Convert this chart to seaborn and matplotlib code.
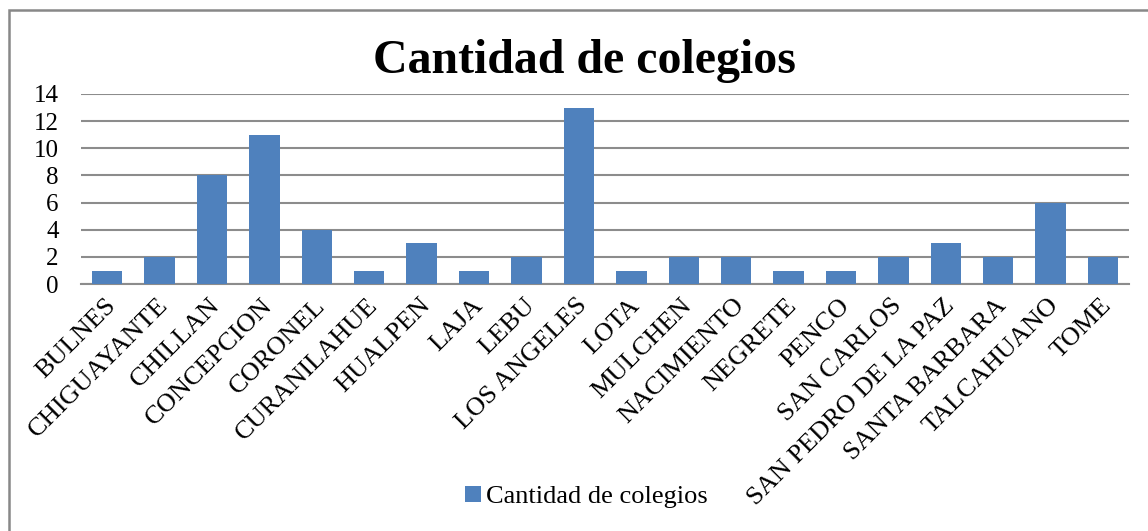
import matplotlib
matplotlib.use("Agg")
import matplotlib.pyplot as plt
import matplotlib.transforms as mtransforms
import seaborn as sns
import pandas as pd
from matplotlib.patches import Rectangle, Patch

comunas = ["BULNES", "CHIGUAYANTE", "CHILLAN", "CONCEPCION", "CORONEL",
           "CURANILAHUE", "HUALPEN", "LAJA", "LEBU", "LOS ANGELES", "LOTA",
           "MULCHEN", "NACIMIENTO", "NEGRETE", "PENCO", "SAN CARLOS",
           "SAN PEDRO DE LA PAZ", "SANTA BARBARA", "TALCAHUANO", "TOME"]
colegios = [1, 2, 8, 11, 4, 1, 3, 1, 2, 13, 1, 2, 2, 1, 1, 2, 3, 2, 6, 2]
yticks = [0, 2, 4, 6, 8, 10, 12, 14]

df = pd.DataFrame({"comuna": comunas, "colegios": colegios})

sns.set_style("white")
plt.rcParams['font.family'] = ['Liberation Serif', 'DejaVu Serif']
plt.rcParams['text.color'] = 'black'
plt.rcParams['xtick.color'] = 'black'
plt.rcParams['ytick.color'] = 'black'

bar_color = "#4F81BD"

fig = plt.figure(figsize=(11.48, 5.31), dpi=100)
ax = fig.add_axes([0.0706, 0.465, 0.913, 0.358])

sns.barplot(data=df, x="comuna", y="colegios", color=bar_color,
            width=0.58, saturation=1, linewidth=0, ax=ax, zorder=3)

ax.set_ylim(0, 14)
ax.set_yticks(yticks)
ax.set_xlim(-0.5, len(comunas) - 0.5)
ax.grid(axis='y', color='#8c8c8c', linewidth=1.5, zorder=0)
ax.set_axisbelow(True)
for s in ['left', 'right', 'top']:
    ax.spines[s].set_visible(False)
ax.spines['bottom'].set_color('#8c8c8c')
ax.spines['bottom'].set_linewidth(1.5)

ax.set_xlabel("")
ax.set_ylabel("")
ax.tick_params(axis='y', labelsize=18, length=0, pad=16)
ax.tick_params(axis='x', labelsize=19, length=0, pad=13)
shift = mtransforms.ScaledTranslation(0.05, 0, fig.dpi_scale_trans)
for lbl in ax.get_xticklabels():
    lbl.set_rotation(45)
    lbl.set_ha('right')
    lbl.set_va('center')
    lbl.set_rotation_mode('anchor')
    lbl.set_transform(lbl.get_transform() + shift)

fig.text(0.509, 0.886, "Cantidad de colegios", ha='center', va='center',
         fontsize=34.5, fontweight='bold')

handles = [Patch(facecolor=bar_color, edgecolor='none')]
fig.legend(handles, ["Cantidad de colegios"], loc='center',
           bbox_to_anchor=(0.511, 0.064), frameon=False, fontsize=19,
           handlelength=0.6, handleheight=0.6, handletextpad=0.2)

# outer chart frame (left and top edges visible)
fig.patches.append(Rectangle((0.0078, -0.1), 1.2, 0.981 + 0.1, transform=fig.transFigure,
                             fill=False, edgecolor='#888888', linewidth=1.8))

fig.savefig("out.png", dpi=100)
